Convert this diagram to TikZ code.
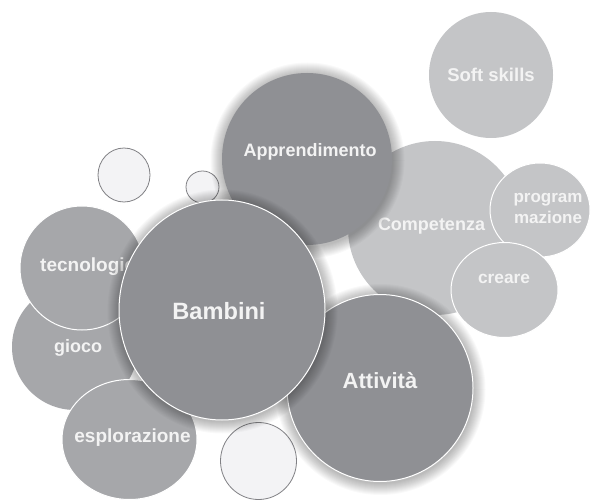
\documentclass[tikz,border=0pt]{standalone}
\usepackage{fontspec}
\setmainfont{Liberation Sans}
\usetikzlibrary{shapes.geometric}
\definecolor{dk}{RGB}{143,144,148}
\definecolor{md}{RGB}{166,167,170}
\definecolor{lt}{RGB}{196,197,199}
\definecolor{sm}{RGB}{243,243,245}
\definecolor{smline}{RGB}{128,128,132}
\definecolor{txt}{RGB}{243,243,243}
\newcommand\bubshadow[4]{%
  \foreach \k in {1,...,12}{%
    \fill[black, opacity=0.022] (#1+0.5,#2+1.5) ellipse [x radius={(#3+\k)*1pt}, y radius={(#4+\k)*1pt}];}}
\tikzset{
  bub/.style={ellipse, inner sep=0pt, outer sep=0pt},
  smallbub/.style={bub, fill=sm, draw=smline, line width=0.8pt},
  darkbub/.style={bub, fill=dk},
  medbub/.style={bub, fill=md},
  lightbub/.style={bub, fill=lt},
  rim/.style={draw=white, line width=1pt},
  lbl/.style={text=txt, inner sep=0pt, anchor=base, font=\bfseries\fontsize{#1}{#1}\selectfont},
}
\begin{document}
\begin{tikzpicture}[x=1pt, y=-1pt]
\useasboundingbox (0,0) rectangle (593,502);
\fill[white] (0,0) rectangle (593,502);

% small outline circles
\node[smallbub, minimum width=52pt, minimum height=54pt] (s1) at (124,175) {};
\node[smallbub, minimum width=33pt, minimum height=32pt] (s2) at (202.5,187) {};
\node[smallbub, minimum width=76pt, minimum height=77pt] (s3) at (258.5,461) {};

% right group
\node[lightbub, minimum width=124pt, minimum height=126pt] (soft) at (491,75) {};
\node[lbl=18.5] (tsoft) at (491,82) {Soft skills};

\node[lightbub, minimum width=174pt, minimum height=174pt] (comp) at (435,228) {};
\node[lbl=18] (tcomp) at (431.5,231) {Competenza};

\node[lightbub, rim, minimum width=100pt, minimum height=94pt] (prog) at (540,210) {};
\node[lbl=17, align=center, anchor=center, font=\bfseries\fontsize{17}{21}\selectfont] (tprog) at (548,208.5) {program\\mazione};

\node[lightbub, rim, minimum width=107pt, minimum height=95pt] (crea) at (504.5,290) {};
\node[lbl=17.3] (tcrea) at (504,283) {creare};

\bubshadow{307}{159}{85}{86}
\node[darkbub, minimum width=170pt, minimum height=172pt] (appr) at (307,159) {};
\node[lbl=18] (tappr) at (310,157) {Apprendimento};

% left group
\node[medbub, minimum width=126pt, minimum height=126pt] (gioc) at (75,347) {};
\node[lbl=18] (tgioc) at (78,352.5) {gioco};

\node[medbub, rim, minimum width=124pt, minimum height=124pt] (tecn) at (82,268) {};
\node[lbl=19, anchor=base west] (ttecn) at (40,271) {tecnologie};

\node[medbub, rim, minimum width=135pt, minimum height=120pt] (espl) at (129.5,439.5) {};
\node[lbl=19] (tespl) at (132.5,442.7) {esplorazione};

% centre
\bubshadow{380}{388}{93}{93.5}
\node[darkbub, rim, minimum width=186pt, minimum height=187pt] (atti) at (380,388) {};
\node[lbl=22] (tatti) at (380,388) {Attività};

\bubshadow{222}{310}{103}{110}
\node[darkbub, rim, minimum width=206pt, minimum height=220pt] (bamb) at (222,310) {};
\node[lbl=23.6] (tbamb) at (219,319.5) {Bambini};
\end{tikzpicture}
\end{document}
